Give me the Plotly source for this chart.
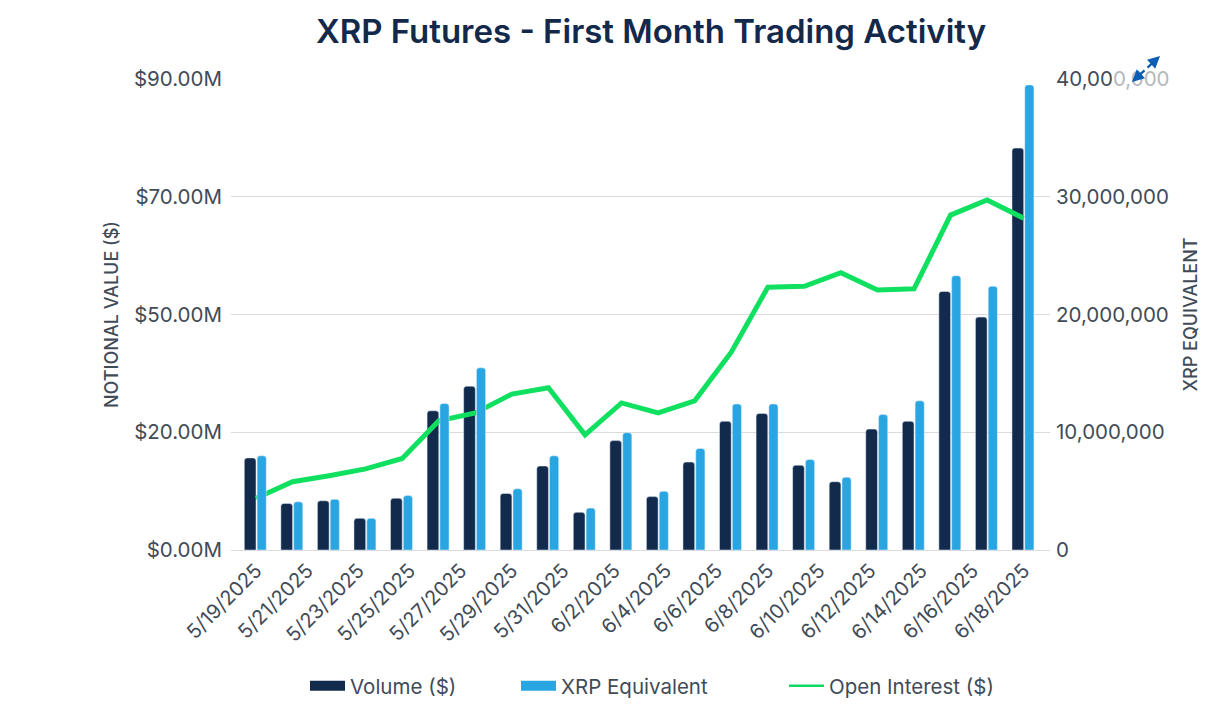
import numpy as np
import plotly.graph_objects as go

date_labels = ["5/19/2025", "5/21/2025", "5/23/2025", "5/25/2025", "5/27/2025", "5/29/2025",
               "5/31/2025", "6/2/2025", "6/4/2025", "6/6/2025", "6/8/2025", "6/10/2025",
               "6/12/2025", "6/14/2025", "6/16/2025", "6/18/2025"]
volume_musd = [17.6, 8.9, 9.4, 6.05, 9.9, 26.6, 31.3, 10.8, 16.05, 7.2, 20.9,
               10.2, 16.8, 24.6, 26.1, 16.2, 13.05, 23.1, 24.6, 49.4, 44.5, 76.8]
xrp_equiv = [8.0e6, 4.09e6, 4.31e6, 2.69e6, 4.62e6, 12.44e6, 15.47e6, 5.2e6, 8.0e6, 3.56e6, 9.96e6,
             4.98e6, 8.62e6, 12.4e6, 12.4e6, 7.69e6, 6.18e6, 11.5e6, 12.67e6, 23.3e6, 22.4e6, 39.5e6]
open_interest_musd = [9.9, 13.05, 14.2, 15.5, 17.5, 24.7, 26.2, 29.8, 31.0, 22.0, 28.1,
                      26.2, 28.5, 37.8, 50.2, 50.4, 53.0, 49.7, 49.9, 64.0, 66.9, 63.4]
left_ticks = [0, 22.5, 45, 67.5, 90]
left_labels = ["$0.00M", "$20.00M", "$50.00M", "$70.00M", "$90.00M"]
right_ticks = [0, 10e6, 20e6, 30e6, 40e6]
right_labels = ["0", "10,000,000", "20,000,000", "30,000,000",
                '40,00<span style="color:#b4b8bc">0,000</span>']

NAVY, SKY, GREEN = "#122b4d", "#29a6e2", "#10e060"
INK = "#414b57"
FONT = "Inter"
L, R, T, B = 231, 1050, 79, 550
W, H = 1219, 728
days = list(range(len(volume_musd)))

fig = go.Figure()
fig.add_bar(x=days, y=volume_musd, name="Volume ($)", marker=dict(color=NAVY, cornerradius=3),
            width=0.32, offset=-0.32, showlegend=False)
fig.add_bar(x=days, y=xrp_equiv, name="XRP Equivalent", yaxis="y2", marker=dict(color=SKY, cornerradius=3),
            width=0.25, offset=0.03, showlegend=False)
fig.add_scatter(x=days, y=open_interest_musd, name="Open Interest ($)", mode="lines",
                line=dict(color=GREEN, width=5), showlegend=False)

for nm, col, lw, leg in [("Volume ($)", NAVY, 12, "legend"),
                         ("XRP Equivalent", SKY, 12, "legend2"),
                         ("Open Interest ($)", "#10d860", 2.5, "legend3")]:
    fig.add_scatter(x=[None], y=[None], mode="lines", name=nm, line=dict(color=col, width=lw), legend=leg)

def legend_at(px):
    return dict(x=(px - L) / (R - L), y=(B - 686) / (B - T), xanchor="left", yanchor="middle",
                orientation="h", itemwidth=35, font=dict(family=FONT, size=20.5, color=INK),
                bgcolor="rgba(0,0,0,0)")

GRID = "#d9dbde"
fig.update_layout(
    width=W, height=H, margin=dict(l=L, r=W - R, t=T, b=H - B, pad=0),
    paper_bgcolor="white", plot_bgcolor="white", barmode="overlay",
    font=dict(family=FONT, color=INK),
    title=dict(text="XRP Futures - First Month Trading Activity", x=651 / W, xanchor="center",
               y=1 - 31 / H, yanchor="middle", font=dict(family=FONT, size=33, weight=600, color="#13294b")),
    legend=legend_at(305), legend2=legend_at(516), legend3=legend_at(784),
    xaxis=dict(range=[-0.684, 21.72], tickmode="array", tickvals=np.linspace(0, 21, len(date_labels)).tolist(),
               ticktext=date_labels, tickangle=-45, tickfont=dict(size=20, color=INK), showgrid=False,
               showline=True, linecolor=GRID, linewidth=1, ticks="", zeroline=False),
    yaxis=dict(range=[0, 90], tickmode="array", tickvals=left_ticks, ticktext=left_labels,
               tickfont=dict(size=20.5, color=INK), ticklabelstandoff=8, gridcolor=GRID, gridwidth=1,
               zeroline=False, ticks="",
               title=dict(text="NOTIONAL VALUE ($)", font=dict(size=18, weight=500, color=INK), standoff=10)),
    yaxis2=dict(range=[0, 40e6], overlaying="y", side="right", tickmode="array", tickvals=right_ticks,
                ticktext=right_labels, tickfont=dict(size=20.5, color=INK), ticklabelstandoff=5,
                showgrid=False, zeroline=False, ticks="",
                title=dict(text="XRP EQUIVALENT", font=dict(size=18, weight=500, color=INK), standoff=15)),
)

ICON = "#0a5fb4"
for hx, hy, tx, ty in [(1160, 56, 1146, 69), (1132, 82, 1146, 69)]:
    fig.add_annotation(x=(hx - L) / (R - L), y=(B - hy) / (B - T), xref="paper", yref="paper", text="",
                       showarrow=True, arrowhead=2, arrowsize=1.1, arrowwidth=2.2, arrowcolor=ICON,
                       ax=tx - hx, ay=ty - hy)

fig.write_html("out.html", config=dict(displayModeBar=False), post_script="document.body.style.margin='0';")
